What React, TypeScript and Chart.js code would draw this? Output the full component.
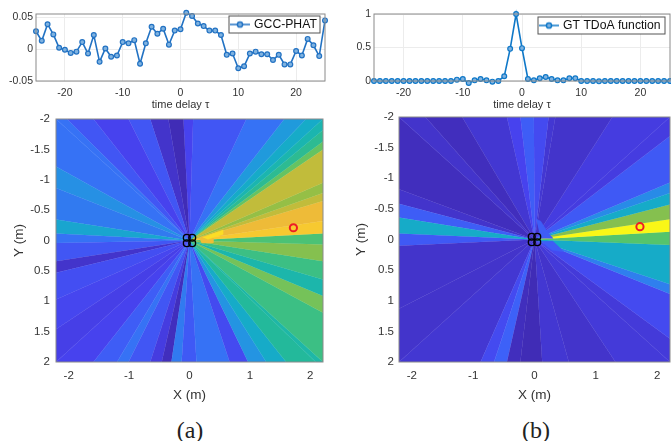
import React, { useEffect, useRef } from "react";
import { Chart, registerables } from "chart.js";

Chart.register(...registerables);

const FONT = "'Liberation Sans', Arial, sans-serif";

// ---- data ----
const tau = [-25,-24,-23,-22,-21,-20,-19,-18,-17,-16,-15,-14,-13,-12,-11,-10,-9,-8,-7,-6,-5,-4,-3,-2,-1,0,1,2,3,4,5,6,7,8,9,10,11,12,13,14,15,16,17,18,19,20,21,22,23,24,25];
const gccPhat = [0.028,0.013,0.039,0.023,0.002,-0.001,-0.006,-0.004,0.011,-0.007,0.022,-0.02,0.001,-0.012,-0.01,0.011,0.009,0.014,-0.023,0.009,0.035,0.024,0.032,0.007,0.029,0.031,0.057,0.052,0.04,0.036,0.029,0.029,0.022,-0.009,-0.007,-0.03,-0.027,-0.007,-0.004,-0.008,-0.008,-0.017,-0.009,-0.024,-0.024,-0.003,-0.01,0.016,0.006,-0.011,0.045];
const gtTdoa = [0,0,0,0,0,0,0,0,0,0,0,0,0,0,0.02,0.03,-0.03,0.01,0.03,0.01,-0.01,0,0.07,0.48,1,0.49,0.03,0.01,0.04,0.06,0.03,0.01,0.01,0.04,0.04,0,0,0,-0.005,0,0,0,0,0,0,0,0,0,0,0,0];
const tauTicks = [-20,-10,0,10,20];
const gccTicks = [-0.05,0,0.05];
const gtTicks = [0,0.5,1];
const mapXTicks = [-2,-1,0,1,2];
const mapYTicks = [-2,-1.5,-1,-0.5,0,0.5,1,1.5,2];

const micX = [-0.045,0.045,-0.045,0.045];
const micY = [-0.045,-0.045,0.045,0.045];
const sourceX = [1.72];
const sourceY = [-0.21];

// wedge rays, clockwise from the top-left corner: where each ray meets the plot frame
const edgeXA = [-2.21,-2.03,-1.59,-1.01,-0.65,-0.35,-0.1,0.06,0.94,1.57,1.93,2.21,2.21,2.21,2.21,2.21,2.21,2.21,2.21,2.21,2.21,2.21,2.21,2.21,2.21,2.21,2.09,1.6,1.27,0.97,0.665,0.115,-0.13,-0.3,-0.46,-0.65,-1.01,-1.2,-1.59,-2.21,-2.21,-2.21,-2.21,-2.21,-2.21,-2.21,-2.21,-2.21,-2.21,-2.21];
const edgeYA = [-2,-2,-2,-2,-2,-2,-2,-2,-2,-2,-2,-2,-1.82,-1.63,-1.5,-0.95,-0.78,-0.65,-0.32,-0.115,0.065,0.34,0.64,0.915,1.19,2,2,2,2,2,2,2,2,2,2,2,2,2,2,2,1.46,0.97,0.53,0.34,0.04,-0.115,-0.345,-0.865,-1.22,-2];
const levelsA = [0.22,0.15,0.1,0.15,0.05,0.02,0.1,0.15,0.22,0.32,0.38,0.45,0.52,0.62,0.74,0.68,0.74,0.81,0.87,0.58,0.66,0.55,0.46,0.64,0.55,0.47,0.5,0.38,0.3,0.12,0.22,0.16,0.24,0.03,0.08,0.15,0.22,0.17,0.1,0.09,0.11,0.13,0.05,0.15,0.22,0.36,0.24,0.29,0.22];

const edgeXB = [-2.21,-1.78,-1.18,-0.45,-0.23,-0.01,0.23,0.34,1.27,2.21,2.21,2.21,2.21,2.21,2.21,2.21,2.21,2.21,2.21,2.21,2.21,1.32,0.56,0.125,-0.23,-0.45,-0.66,-0.88,-2.21,-2.21,-2.21,-2.21,-2.21,-2.21,-2.21,-2.21];
const edgeYB = [-2,-2,-2,-2,-2,-2,-2,-2,-2,-2,-1.69,-0.93,-0.76,-0.57,-0.33,-0.125,0.09,0.73,0.89,1.62,2,2,2,2,2,2,2,2,2,1.13,0.1,-0.1,-0.36,-0.585,-0.82,-2];
const levelsB = [0.05,0.03,0.06,0.1,0.17,0.12,0.06,0.05,0.08,0.08,0.16,0.28,0.38,0.66,0.99,0.6,0.38,0.25,0.12,0.07,0.07,0.05,0.06,0.02,0.03,0.18,0.12,0.06,0.05,0.05,0.16,0.38,0.17,0.05,0.03];

// small patches close to the array, listed top-most first
const patchXA = [[0.22,0.55,0.55,0.3],[0.17,0.2,0.39,0.39,0.2]];
const patchYA = [[-0.05,-0.17,-0.1,-0.02],[-0.02,-0.06,-0.08,0.04,0.04]];
const patchLevelsA = [0.93,0.82];
const patchXB = [[0.03,0.1,0.22,0.3,0.1],[0.1,0.3,0.48,0.28]];
const patchYB = [[-0.33,-0.3,-0.11,-0.02,-0.02],[0.03,0.03,0.2,0.17]];
const patchLevelsB = [0.17,0.17];

// ---- colours ----
const parula: [number, number, number][] = [[62,38,168],[71,66,238],[58,105,250],[36,148,226],[18,177,194],[35,185,155],[85,196,108],[165,190,60],[236,185,57],[252,208,44],[249,251,21]];
function parulaColor(v: number) {
  const p = Math.min(0.9999, Math.max(0, v)) * (parula.length - 1);
  const i = Math.floor(p), f = p - i;
  const c = parula[i].map((a, k) => Math.round(a + (parula[i + 1][k] - a) * f));
  return `rgb(${c[0]},${c[1]},${c[2]})`;
}

function polygon(label: string, data: { x: number; y: number }[], v: number) {
  const color = parulaColor(v);
  return {
    label, data, showLine: true, fill: "shape", tension: 0,
    backgroundColor: color, borderColor: color, borderWidth: 0.6, pointRadius: 0,
  };
}

function wedgeDatasets(xs: number[], ys: number[], levels: number[]) {
  return levels.map((v, i) =>
    polygon(`w${i}`, [{ x: 0, y: 0 }, { x: xs[i] * 3, y: ys[i] * 3 }, { x: xs[i + 1] * 3, y: ys[i + 1] * 3 }], v));
}

function zip(xs: number[], ys: number[]) {
  return xs.map((x, i) => ({ x, y: ys[i] }));
}

const frame = {
  id: "frame",
  afterDraw(chart: any) {
    const { ctx, chartArea: a } = chart;
    ctx.save();
    ctx.strokeStyle = "#8a8a8a";
    ctx.lineWidth = 1;
    ctx.strokeRect(a.left, a.top, a.right - a.left, a.bottom - a.top);
    ctx.restore();
  },
};

function legendBox(box: [number, number, number, number]) {
  const [l, t, w, h] = box;
  return {
    id: "legendBox",
    afterLayout(chart: any) {
      const lg = chart.legend;
      lg.left = l + 1; lg.top = t + 1; lg.right = l + w - 1; lg.bottom = t + h - 1;
      lg.width = w - 2; lg.height = h - 2;
    },
    afterDatasetsDraw(chart: any) {
      const { ctx } = chart;
      ctx.save();
      ctx.fillStyle = "#fff";
      ctx.strokeStyle = "#555";
      ctx.lineWidth = 1;
      ctx.fillRect(l, t, w, h);
      ctx.strokeRect(l, t, w, h);
      ctx.restore();
      chart.legend.draw();
    },
  };
}

function lineSwatch(color: string) {
  const c = document.createElement("canvas");
  c.width = 20; c.height = 10;
  const g = c.getContext("2d")!;
  g.strokeStyle = color; g.lineWidth = 1.5;
  g.beginPath(); g.moveTo(0, 5); g.lineTo(20, 5); g.stroke();
  g.fillStyle = "#7fb2e0";
  g.beginPath(); g.arc(10, 5, 2.6, 0, Math.PI * 2); g.fill(); g.stroke();
  return c;
}

function lineConfig(label: string, values: number[], ticksY: number[], min: number, max: number,
  color: string, leftW: number, rightP: number, box: [number, number, number, number], yFmt: (v: number) => string) {
  return {
    type: "line",
    data: {
      labels: tau,
      datasets: [{
        label, data: zip(tau, values), borderColor: color, backgroundColor: "#7fb2e0",
        borderWidth: 1.6, pointRadius: 2.4, pointBorderWidth: 1.2, pointBorderColor: color,
        pointBackgroundColor: "#7fb2e0", tension: 0, clip: false,
      }],
    },
    options: {
      animation: false, responsive: false, events: [],
      layout: { autoPadding: false, padding: { top: 14, right: rightP, left: 0, bottom: 0 } },
      plugins: {
        tooltip: { enabled: false },
        legend: {
          display: true, position: "chartArea",
          labels: {
            usePointStyle: true, pointStyle: lineSwatch(color), pointStyleWidth: 16, boxHeight: 10,
            padding: 2, color: "#111", font: { family: FONT, size: 12.2 },
          },
        },
      },
      scales: {
        x: {
          type: "linear", min: -25, max: 25,
          afterBuildTicks: (ax: any) => { ax.ticks = tauTicks.map((value) => ({ value })); },
          afterFit: (ax: any) => { ax.height = 31; },
          grid: { color: "#ececec", drawTicks: false },
          border: { display: false },
          ticks: { color: "#333", padding: 6, maxRotation: 0, autoSkip: false, font: { family: FONT, size: 10.5 }, callback: (v: number) => String(v) },
          title: { display: true, text: "time delay τ", color: "#333", font: { family: FONT, size: 11 }, padding: { top: 0, bottom: 0 } },
        },
        y: {
          type: "linear", min, max,
          afterBuildTicks: (ax: any) => { ax.ticks = ticksY.map((value) => ({ value })); },
          afterFit: (ax: any) => { ax.width = leftW; },
          grid: { color: "#ececec", drawTicks: false },
          border: { display: false },
          ticks: { color: "#333", padding: 3, autoSkip: false, font: { family: FONT, size: 10.5 }, callback: yFmt },
        },
      },
    },
    plugins: [frame, legendBox(box)],
  };
}

function mapConfig(xs: number[], ys: number[], levels: number[], px: number[][], py: number[][], pl: number[],
  leftW: number, topP: number, rightP: number, titlePad: number, tickPad: number) {
  return {
    type: "scatter",
    data: {
      datasets: [
        { label: "Source", data: zip(sourceX, sourceY), pointRadius: 3.6, pointBorderWidth: 2, pointBorderColor: "#ee1c25", pointBackgroundColor: "rgba(0,0,0,0)", showLine: false },
        { label: "Microphones", data: zip(micX, micY), pointRadius: 3.4, pointBorderWidth: 1.4, pointBorderColor: "#000", pointBackgroundColor: "rgba(0,0,0,0)", showLine: false, clip: false },
        ...pl.map((v, i) => polygon(`p${i}`, zip(px[i], py[i]), v)),
        ...wedgeDatasets(xs, ys, levels),
      ],
    },
    options: {
      animation: false, responsive: false, events: [],
      layout: { autoPadding: false, padding: { top: topP, right: rightP, left: 0, bottom: 0 } },
      plugins: { tooltip: { enabled: false }, legend: { display: false } },
      scales: {
        x: {
          type: "linear", min: -2.21, max: 2.21,
          afterBuildTicks: (ax: any) => { ax.ticks = mapXTicks.map((value) => ({ value })); },
          afterFit: (ax: any) => { ax.height = 48; },
          grid: { display: false, drawTicks: false }, border: { display: false },
          ticks: { color: "#333", padding: 7, maxRotation: 0, autoSkip: false, font: { family: FONT, size: 11.5 }, callback: (v: number) => String(v) },
          title: { display: true, text: "X (m)", color: "#333", font: { family: FONT, size: 13.5 }, padding: { top: 0, bottom: 7 } },
        },
        y: {
          type: "linear", reverse: true, min: -2, max: 2,
          afterBuildTicks: (ax: any) => { ax.ticks = mapYTicks.map((value) => ({ value })); },
          afterFit: (ax: any) => { ax.width = leftW; },
          grid: { display: false, drawTicks: false }, border: { display: false },
          ticks: { color: "#333", padding: tickPad, autoSkip: false, font: { family: FONT, size: 11.5 }, callback: (v: number) => String(v) },
          title: { display: true, text: "Y (m)", color: "#333", font: { family: FONT, size: 13.5 }, padding: { top: titlePad, bottom: 0 } },
        },
      },
    },
    plugins: [frame],
  };
}

function ChartBox({ left, top, width, height, make }: { left: number; top: number; width: number; height: number; make: () => any }) {
  const ref = useRef<HTMLCanvasElement>(null);
  useEffect(() => {
    const chart = new Chart(ref.current!, make());
    return () => chart.destroy();
  }, []);
  return <canvas ref={ref} width={width} height={height} style={{ position: "absolute", left, top, width, height }} />;
}

export default function App() {
  const caption: React.CSSProperties = {
    position: "absolute", top: 418, width: 60, textAlign: "center",
    fontFamily: "'Liberation Serif', serif", fontSize: 24, lineHeight: "24px", color: "#222",
  };
  return (
    <div style={{ position: "fixed", left: 0, top: 0, width: 671, height: 441, background: "#fff", overflow: "hidden", filter: "blur(0.6px)" }}>
      <ChartBox left={0} top={0} width={335} height={112} make={() => lineConfig("GCC-PHAT", gccPhat, gccTicks, -0.05, 0.055, "#2272c3", 36, 10, [229, 16, 91, 17], (v: number) => String(v))} />
      <ChartBox left={335} top={0} width={336} height={112} make={() => lineConfig("GT TDoA function", gtTdoa, gtTicks, 0, 1, "#0f78c8", 39, 1, [203, 17, 127, 17], (v: number) => String(v))} />
      <ChartBox left={0} top={100} width={335} height={310} make={() => mapConfig(edgeXA, edgeYA, levelsA, patchXA, patchYA, patchLevelsA, 56, 19, 12, 11, 6)} />
      <ChartBox left={335} top={100} width={336} height={310} make={() => mapConfig(edgeXB, edgeYB, levelsB, patchXB, patchYB, patchLevelsB, 64, 17, 1, 18, 5)} />
      <div style={{ ...caption, left: 160 }}>(a)</div>
      <div style={{ ...caption, left: 506 }}>(b)</div>
    </div>
  );
}
